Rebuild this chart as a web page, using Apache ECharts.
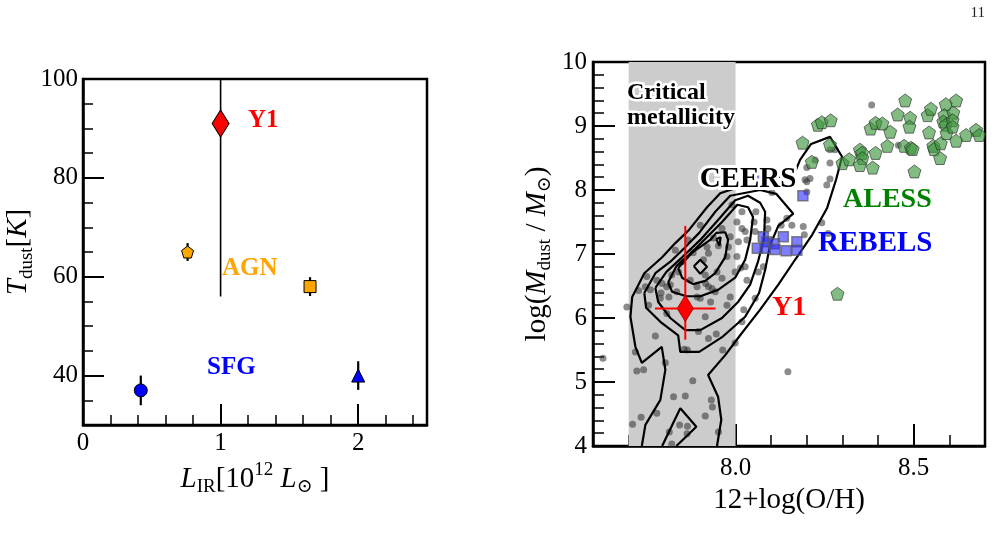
<!DOCTYPE html>
<html>
<head>
<meta charset="utf-8">
<title>Tdust and dust mass</title>
<script src="https://cdn.jsdelivr.net/npm/echarts@6/dist/echarts.min.js"></script>
<style>
html,body{margin:0;padding:0;background:#fff;}
#main{width:1000px;height:542px;}
</style>
</head>
<body>
<div id="main"></div>
<script>
// ---------------- left panel: Tdust vs L_IR
var sfgLir = [0.42, 2.0];
var sfgTdust = [37, 40];
var sfgErr = [3, 2.9];
var sfgSymbols = ['circle', 'triangle'];

var agnLir = [0.76, 1.65];
var agnTdust = [65, 58];
var agnErr = [1.8, 1.9];
var pentagon = 'path://M0,-10 L9.51,-3.09 L5.88,8.09 L-5.88,8.09 L-9.51,-3.09 Z';
var agnSymbols = [pentagon, 'rect'];

var y1Lir = [1.0];
var y1Tdust = [91];
var y1TdustLo = [35];
var y1TdustHi = [35];

var leftYMajor = [40, 60, 80, 100];
var leftXMajor = [0, 1, 2];

// ---------------- right panel: log Mdust vs 12+log(O/H)
var criticalZ = [7.7, 8.0];
var rightXMajor = [8.0, 8.5];

var ceers = [
  [7.695,6.17],[7.728,6.43],[7.756,6.20],[7.807,6.07],[7.791,6.39],[7.901,6.31],[7.915,6.02],[7.943,6.41],
  [7.976,6.20],[7.985,6.33],[8.055,6.31],[8.018,5.94],[7.999,5.61],[7.964,5.50],[7.946,5.75],[7.924,5.68],
  [7.896,5.79],[7.865,5.50],[7.856,5.51],[7.775,5.72],[7.719,5.47],[7.723,5.17],[7.742,5.19],[7.803,5.30],
  [7.628,5.37],[7.880,5.02],[7.826,4.77],[7.859,4.78],[7.932,4.72],[7.935,4.61],[7.915,4.47],[7.779,4.51],
  [7.735,4.45],[7.711,4.34],[7.843,4.33],[7.865,4.31],[7.814,4.22],[7.821,4.03],[7.864,4.19],[7.952,4.22],
  [8.147,5.16],[8.102,7.96],[7.990,7.77],[8.018,7.66],[8.057,7.66],[8.052,7.50],[8.088,7.53],[8.091,7.40],
  [8.128,7.45],[8.018,7.40],[7.985,7.27],[7.962,7.40],[7.938,7.25],[7.920,7.11],[7.952,7.13],[7.924,7.01],
  [7.910,6.91],[7.980,7.11],[7.976,6.96],[8.004,6.96],[7.999,6.72],[8.027,6.80],[8.032,6.59],[8.064,6.72],
  [8.078,6.80],[7.948,6.72],[7.962,6.62],[7.915,6.67],[7.924,6.49],[7.892,6.49],[7.840,6.72],[7.821,6.67],
  [7.817,6.52],[7.807,6.49],[7.835,6.41],[7.779,6.59],[7.751,6.65],[7.747,6.49],[7.873,6.59],[8.382,9.33],
  [8.457,8.70],[8.265,8.63],[8.279,8.63],[8.265,8.42],[8.223,8.47],[8.200,8.35],[8.209,8.18],[8.195,8.16],
  [8.265,8.17],[8.256,8.08],[8.200,7.97],[8.200,8.13],[8.158,7.45],[8.190,7.43],[8.193,7.30],[8.242,7.49],
  [8.260,7.32],[7.901,7.45],[7.881,7.02],[7.850,6.88],[7.831,7.06],[7.867,7.22],[7.789,6.31],[7.761,6.44],
  [8.144,7.56],[8.055,7.35],[8.027,7.35],[8.032,7.22],[8.004,7.50],[8.008,7.19],[7.930,6.25],[7.794,6.54],
  [7.813,6.33],[7.892,6.33],[7.916,6.54],[7.934,6.46],[8.014,6.78],[8.023,6.13]
];

var aless = [
  [8.231,9.02],[8.242,9.06],[8.267,9.09],[8.188,8.74],[8.265,8.71],[8.214,8.44],[8.300,8.42],[8.319,8.48],
  [8.349,8.63],[8.355,8.58],[8.356,8.50],[8.349,8.39],[8.385,8.35],[8.393,8.58],[8.379,8.96],[8.393,9.05],
  [8.412,9.04],[8.434,8.91],[8.426,8.69],[8.455,9.18],[8.490,9.13],[8.488,8.99],[8.476,9.40],[8.473,8.69],
  [8.492,8.66],[8.497,8.64],[8.502,8.29],[8.539,9.17],[8.548,9.27],[8.543,8.90],[8.555,8.69],[8.557,8.64],
  [8.574,8.50],[8.576,8.73],[8.590,9.34],[8.586,9.17],[8.583,9.07],[8.590,9.02],[8.592,8.89],[8.611,9.21],
  [8.619,9.40],[8.609,9.09],[8.609,8.99],[8.619,8.77],[8.647,8.86],[8.675,8.94],[8.684,8.86],[8.286,6.38]
];

var rebels = [
  [8.189,7.91],[8.061,7.09],[8.078,7.27],[8.088,7.19],[8.083,7.09],[8.108,7.16],
  [8.134,7.27],[8.142,7.05],[8.172,7.19],[8.172,7.06],[8.111,7.07],[8.063,8.20]
];

var y1OH = [7.859];
var y1Mdust = [6.15];
var y1OHErr = [0.085];
var y1MdustLo = [0.49];
var y1MdustHi = [1.29];

// CEERS density contours (outer ones are cut by the x axis)
var contour1 = [[7.737,4.00],[7.747,4.33],[7.789,4.72],[7.803,5.19],[7.793,5.55],[7.737,5.30],[7.719,5.55],
  [7.705,6.02],[7.710,6.33],[7.744,6.70],[7.794,6.95],[7.831,7.17],[7.870,7.38],[7.920,7.73],[7.957,7.95],
  [8.027,8.08],[8.111,8.19],[8.167,8.28],[8.181,8.47],[8.212,8.72],[8.265,8.83],[8.299,8.52],[8.282,8.16],
  [8.257,7.72],[8.215,7.30],[8.167,6.91],[8.120,6.52],[8.069,6.13],[8.013,5.73],[7.971,5.42],[7.923,5.11],
  [7.951,4.77],[7.960,4.41],[7.948,4.00]];
var contour2 = [[7.744,6.39],[7.775,6.70],[7.817,6.88],[7.856,7.09],[7.898,7.33],[7.943,7.66],[7.985,7.91],
  [8.069,8.00],[8.114,7.94],[8.162,7.63],[8.120,7.44],[8.097,7.14],[8.083,6.75],[8.066,6.39],[8.027,6.02],
  [7.962,5.70],[7.898,5.47],[7.845,5.47],[7.839,5.73],[7.789,5.94],[7.749,6.16],[7.744,6.39]];
var contour3 = [[7.775,6.47],[7.806,6.72],[7.850,6.95],[7.901,7.22],[7.951,7.53],[7.999,7.84],[8.035,7.91],
  [8.069,7.80],[8.083,7.66],[8.080,7.25],[8.063,6.88],[8.041,6.52],[8.007,6.25],[7.962,6.00],[7.901,5.81],
  [7.859,5.81],[7.817,6.00],[7.783,6.25],[7.775,6.47]];
var contour4 = [[7.811,6.56],[7.834,6.81],[7.878,7.03],[7.923,7.28],[7.962,7.50],[8.005,7.77],[8.035,7.73],
  [8.049,7.58],[8.041,7.22],[8.027,6.91],[7.999,6.63],[7.951,6.44],[7.901,6.34],[7.862,6.34],[7.822,6.41],
  [7.811,6.56]];
var contour5 = [[7.839,6.78],[7.878,7.02],[7.929,7.22],[7.946,7.33],[7.971,7.34],[7.979,7.22],[7.971,6.95],
  [7.943,6.70],[7.915,6.58],[7.881,6.53],[7.850,6.63],[7.839,6.78]];
var contour6 = [[7.883,6.81],[7.901,6.91],[7.920,6.80],[7.901,6.69],[7.883,6.81]];
var contour7 = [[7.946,7.23],[7.958,7.26],[7.955,7.13],[7.946,7.23]];
var contour8 = [[7.794,4.00],[7.845,4.59],[7.890,4.30],[7.834,4.00]];
var contours = [contour1, contour2, contour3, contour4, contour5, contour6, contour7, contour8];

// ------------------------------------------------ helpers
var serif = '"Liberation Serif", "DejaVu Serif", serif';

function isNear(v, list) {
    for (var i = 0; i < list.length; i++) {
        if (Math.abs(v - list[i]) < 1e-6) return true;
    }
    return false;
}
// vertical error bars: [x, ylow, x, yhigh]
function vBars(xs, ys, lo, hi) {
    return xs.map(function (x, i) { return [x, ys[i] - lo[i], x, ys[i] + hi[i]]; });
}
function hBars(xs, ys, err) {
    return xs.map(function (x, i) { return [x - err[i], ys[i], x + err[i], ys[i]]; });
}
function errSeries(data, xi, yi, color, width, z) {
    return {
        type: 'custom', xAxisIndex: xi, yAxisIndex: yi, clip: true, z: z,
        encode: { x: [0, 2], y: [1, 3] },
        data: data,
        renderItem: function (params, api) {
            var a = api.coord([api.value(0), api.value(1)]);
            var b = api.coord([api.value(2), api.value(3)]);
            return {
                type: 'line',
                shape: { x1: a[0], y1: a[1], x2: b[0], y2: b[1] },
                style: { stroke: color, lineWidth: width }
            };
        }
    };
}
function points(xs, ys, symbols) {
    return xs.map(function (x, i) {
        var d = { value: [x, ys[i]] };
        if (symbols) d.symbol = symbols[i];
        return d;
    });
}
function label(text, x, y, color, size, halo) {
    var st = { text: text, x: x, y: y, fill: color, font: 'bold ' + size + 'px ' + serif, verticalAlign: 'middle' };
    if (halo) { st.stroke = '#fff'; st.lineWidth = 5; st.strokeFirst = true; }
    return { type: 'text', z: 100, style: st };
}

var nameRich = {
    i: { fontFamily: serif, fontStyle: 'italic', fontSize: 29, lineHeight: 36, color: '#000' },
    r: { fontFamily: serif, fontSize: 29, lineHeight: 36, color: '#000' },
    s: { fontFamily: serif, fontSize: 19, lineHeight: 19, verticalAlign: 'bottom', color: '#000' },
    p: { fontFamily: serif, fontSize: 19, lineHeight: 19, verticalAlign: 'top', color: '#000' }
};

var tickLabel = { fontFamily: serif, fontSize: 25, color: '#000' };

var chart = echarts.init(document.getElementById('main'));

var option = {
    animation: false,
    backgroundColor: '#fff',
    grid: [
        { left: 83, top: 79, width: 344, height: 346, show: true, borderColor: '#000', borderWidth: 2.5, backgroundColor: 'transparent' },
        { left: 593, top: 62, width: 392, height: 384, show: true, borderColor: '#000', borderWidth: 2.5, backgroundColor: 'transparent' }
    ],
    xAxis: [
        { // left, short ticks + labels
            type: 'value', gridIndex: 0, position: 'bottom', min: 0, max: 2.5, interval: 0.2,
            axisLine: { lineStyle: { color: '#000', width: 2.5 } },
            axisTick: { inside: true, length: 10, lineStyle: { color: '#000', width: 1.5 } },
            axisLabel: { margin: 6, textStyle: tickLabel, formatter: function (v) { return isNear(v, leftXMajor) ? String(Math.round(v)) : ''; } },
            splitLine: { show: false },
            name: '{i|L}{s|IR}{r|[10}{p|12}{r| }{i|L}{s|⊙}{r| ]}',
            nameLocation: 'middle', nameGap: 27,
            nameTextStyle: { rich: nameRich }
        },
        { // left, long ticks
            type: 'value', gridIndex: 0, position: 'bottom', min: 0, max: 2.5, interval: 1,
            axisLine: { show: false },
            axisTick: { inside: true, length: 21, lineStyle: { color: '#000', width: 2 } },
            axisLabel: { show: false }, splitLine: { show: false }
        },
        { // right, short ticks + labels
            type: 'value', gridIndex: 1, position: 'bottom', min: 7.6, max: 8.7, interval: 0.1,
            axisLine: { lineStyle: { color: '#000', width: 2.5 } },
            axisTick: { inside: true, length: 11, lineStyle: { color: '#000', width: 1.5 } },
            axisLabel: { margin: 10, textStyle: tickLabel, formatter: function (v) { return isNear(v, rightXMajor) ? v.toFixed(1) : ''; } },
            splitLine: { show: false },
            name: '12+log(O/H)', nameLocation: 'middle', nameGap: 33,
            nameTextStyle: { fontFamily: serif, fontSize: 29, color: '#000' }
        },
        { // right, long ticks
            type: 'value', gridIndex: 1, position: 'bottom', min: 7.6, max: 8.7,
            axisLine: { show: false },
            axisTick: { inside: true, length: 22, customValues: rightXMajor, lineStyle: { color: '#000', width: 2 } },
            axisLabel: { show: false }, splitLine: { show: false }
        }
    ],
    yAxis: [
        { // left, short ticks + labels
            type: 'value', gridIndex: 0, position: 'left', min: 30, max: 100, interval: 5,
            axisLine: { lineStyle: { color: '#000', width: 2.5 } },
            axisTick: { inside: true, length: 10, lineStyle: { color: '#000', width: 1.5 } },
            axisLabel: { margin: 5, textStyle: tickLabel, formatter: function (v) { return isNear(v, leftYMajor) ? String(v) : ''; } },
            splitLine: { show: false },
            name: '{i|T}{s|dust}{r|[}{i|K}{r|]}',
            nameLocation: 'middle', nameGap: 46,
            nameTextStyle: { rich: nameRich }
        },
        { // left, long ticks
            type: 'value', gridIndex: 0, position: 'left', min: 30, max: 100,
            axisLine: { show: false },
            axisTick: { inside: true, length: 21, customValues: leftYMajor, lineStyle: { color: '#000', width: 2 } },
            axisLabel: { show: false }, splitLine: { show: false }
        },
        { // right
            type: 'value', gridIndex: 1, position: 'left', min: 4, max: 10, interval: 1,
            axisLine: { lineStyle: { color: '#000', width: 2.5 } },
            axisTick: { inside: true, length: 22, lineStyle: { color: '#000', width: 2 } },
            minorTick: { show: true, splitNumber: 5, length: 11, lineStyle: { color: '#000', width: 1.5 } },
            axisLabel: { margin: 6, textStyle: tickLabel },
            splitLine: { show: false },
            name: '{r|log(}{i|M}{s|dust}{r| / }{i|M}{s|⊙}{r|)}',
            nameLocation: 'middle', nameGap: 38,
            nameTextStyle: { rich: nameRich }
        }
    ],
    series: [],
    graphic: [
        label('Y1', 248, 121, '#ff0000', 25),
        label('AGN', 222, 269, '#ffa500', 25),
        label('SFG', 207, 368, '#0000ff', 25),
        label('Critical', 627, 93, '#000', 24, true),
        label('metallicity', 627, 118, '#000', 24, true),
        { type: 'text', z: 100, style: { text: 'CEERS', x: 748, y: 180, align: 'center', verticalAlign: 'middle',
            font: 'bold 29px ' + serif, fill: '#000', stroke: '#fff', lineWidth: 6, strokeFirst: true } },
        label('ALESS', 843, 200, '#008000', 28),
        label('REBELS', 818, 244, '#0000ff', 29),
        label('Y1', 772, 308, '#ff0000', 28),
        { type: 'text', z: 100, style: { text: '11', x: 985, y: 13, align: 'right', verticalAlign: 'middle',
            font: '15px ' + serif, fill: '#222' } }
    ]
};

// left panel series
option.series.push(errSeries(vBars(sfgLir, sfgTdust, sfgErr, sfgErr), 0, 0, '#000', 2.2, 2));
option.series.push(errSeries(vBars(agnLir, agnTdust, agnErr, agnErr), 0, 0, '#000', 2.2, 2));
option.series.push(errSeries(vBars(y1Lir, y1Tdust, y1TdustLo, y1TdustHi), 0, 0, '#000', 1.6, 2));
option.series.push({
    name: 'SFG', type: 'scatter', xAxisIndex: 0, yAxisIndex: 0, z: 5, symbolSize: 13,
    itemStyle: { color: '#0000ff', borderColor: '#000', borderWidth: 1, opacity: 1 },
    data: points(sfgLir, sfgTdust, sfgSymbols)
});
option.series.push({
    name: 'AGN', type: 'scatter', xAxisIndex: 0, yAxisIndex: 0, z: 5, symbolSize: 12,
    itemStyle: { color: '#ffa500', borderColor: '#000', borderWidth: 1, opacity: 1 },
    data: points(agnLir, agnTdust, agnSymbols)
});
option.series.push({
    name: 'Y1', type: 'scatter', xAxisIndex: 0, yAxisIndex: 0, z: 6, symbol: 'diamond', symbolSize: [17, 27],
    itemStyle: { color: '#ff0000', borderColor: '#000', borderWidth: 1, opacity: 1 },
    data: points(y1Lir, y1Tdust)
});

// right panel series
option.series.push({
    name: 'CEERS', type: 'scatter', xAxisIndex: 2, yAxisIndex: 2, z: 2, symbolSize: 7,
    itemStyle: { color: 'rgba(50,50,50,0.7)' },
    data: ceers,
    markArea: {
        silent: true,
        itemStyle: { color: '#cccccc' },
        data: [[{ xAxis: criticalZ[0] }, { xAxis: criticalZ[1] }]]
    }
});
contours.forEach(function (c) {
    option.series.push({
        type: 'line', xAxisIndex: 2, yAxisIndex: 2, z: 3, showSymbol: false, symbol: 'none',
        lineStyle: { color: '#000', width: 2.2 }, data: c
    });
});
option.series.push({
    name: 'ALESS', type: 'scatter', xAxisIndex: 2, yAxisIndex: 2, z: 4, symbol: pentagon, symbolSize: 13,
    itemStyle: { color: 'rgba(60,150,60,0.8)', borderColor: 'rgba(40,40,40,0.8)', borderWidth: 1 },
    data: aless
});
option.series.push({
    name: 'REBELS', type: 'scatter', xAxisIndex: 2, yAxisIndex: 2, z: 4, symbol: 'rect', symbolSize: 10,
    itemStyle: { color: 'rgba(40,40,255,0.75)', borderColor: 'rgba(90,90,90,0.9)', borderWidth: 1.5 },
    data: rebels
});
option.series.push(errSeries(vBars(y1OH, y1Mdust, y1MdustLo, y1MdustHi), 2, 2, '#ff0000', 2, 5));
option.series.push(errSeries(hBars(y1OH, y1Mdust, y1OHErr), 2, 2, '#ff0000', 2, 5));
option.series.push({
    name: 'Y1 metal', type: 'scatter', xAxisIndex: 2, yAxisIndex: 2, z: 6, symbol: 'diamond', symbolSize: [16, 26],
    itemStyle: { color: '#ff0000', borderColor: '#b00000', borderWidth: 1, opacity: 1 },
    data: points(y1OH, y1Mdust)
});

chart.setOption(option);
</script>
</body>
</html>
